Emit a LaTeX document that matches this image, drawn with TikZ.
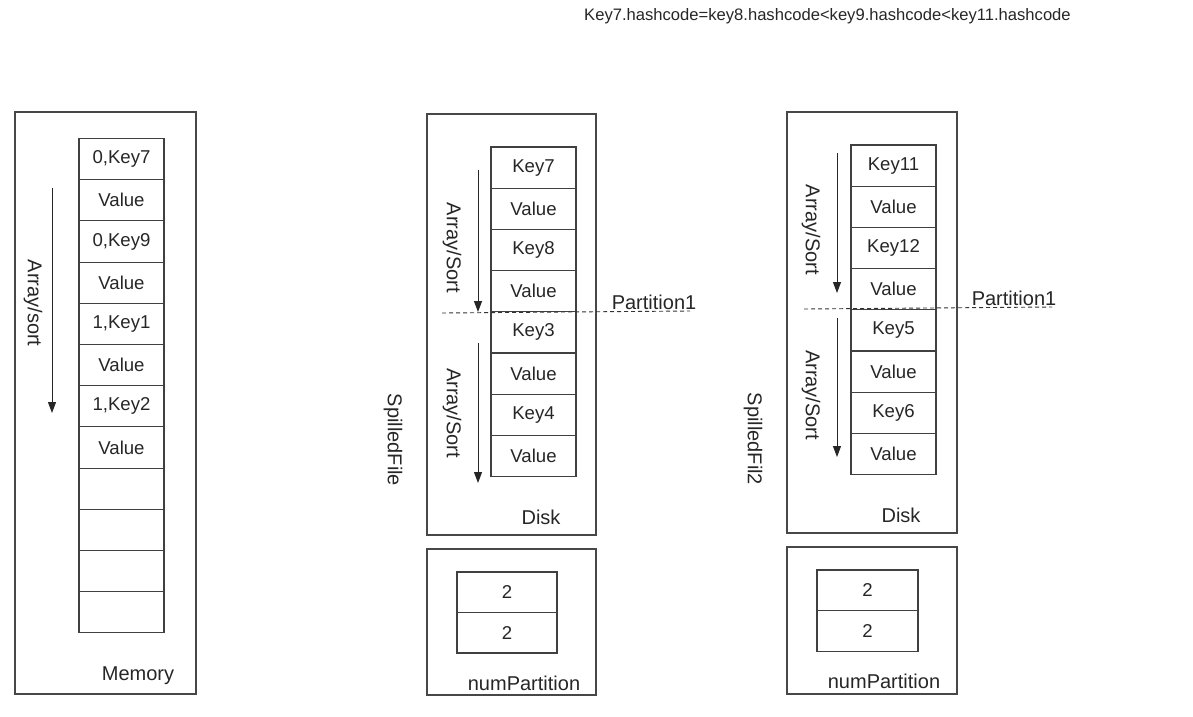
\documentclass[tikz,border=0pt]{standalone}
\usepackage{fontspec}
\setmainfont{Liberation Sans}
\usetikzlibrary{arrows.meta,positioning}

\begin{document}
\begin{tikzpicture}[x=1pt,y=-1pt,
  cell/.style={draw=black!75,line width=1.1pt,minimum width=85pt,minimum height=41.2pt,inner sep=0pt,outer sep=0pt,font=\fontsize{18.6}{20}\selectfont,text=black!85},
  box/.style={draw=black!72,line width=1.2pt,inner sep=0pt,outer sep=0pt},
  lbl/.style={font=\fontsize{20}{22}\selectfont,text=black!85,inner sep=0pt},
  sortarrow/.style={draw=black!85,line width=1pt,-{Triangle[width=8pt,length=11pt]}},
  cut/.style={draw=black!80,line width=0.9pt,dash pattern=on 4pt off 3pt}]
\useasboundingbox (0,0) rectangle (1193,716);

\node[font=\fontsize{16.6}{18}\selectfont,text=black!85] (hash) at (827.5,16) {Key7.hashcode=key8.hashcode<key9.hashcode<key11.hashcode};

% memory
\node[box,minimum width=181pt,minimum height=582pt] (mem) at (105.5,403) {};
\node[cell] (m1) at (121.5,159.1) {0,Key7};
\node[cell,below=0pt of m1] (m2) {Value};
\node[cell,below=0pt of m2] (m3) {0,Key9};
\node[cell,below=0pt of m3] (m4) {Value};
\node[cell,below=0pt of m4] (m5) {1,Key1};
\node[cell,below=0pt of m5] (m6) {Value};
\node[cell,below=0pt of m6] (m7) {1,Key2};
\node[cell,below=0pt of m7] (m8) {Value};
\node[cell,below=0pt of m8] (m9) {};
\node[cell,below=0pt of m9] (m10) {};
\node[cell,below=0pt of m10] (m11) {};
\node[cell,below=0pt of m11] (m12) {};
\node[lbl] (memlbl) at (138,676) {Memory};
\coordinate (ms) at (52,188);
\coordinate (me) at (52,413);
\draw[sortarrow] (ms) -- (me);
\node[lbl,rotate=-90] (msort) at (33,303) {Array/sort};

% first spilled file
\node[box,minimum width=169pt,minimum height=421pt] (disk) at (511.5,324.5) {};
\node[cell] (a1) at (533.5,167.6) {Key7};
\node[cell,below=0pt of a1] (a2) {Value};
\node[cell,below=0pt of a2] (a3) {Key8};
\node[cell,below=0pt of a3] (a4) {Value};
\node[cell,below=0pt of a4] (a5) {Key3};
\node[cell,below=0pt of a5] (a6) {Value};
\node[cell,below=0pt of a6] (a7) {Key4};
\node[cell,below=0pt of a7] (a8) {Value};
\node[lbl] (disklbl) at (541,517) {Disk};
\node[lbl,rotate=-90] (spill) at (393,440) {SpilledFile};
\coordinate (as1) at (478,170);
\coordinate (ae1) at (478,312);
\coordinate (as2) at (478,343);
\coordinate (ae2) at (478,483);
\draw[sortarrow] (as1) -- (ae1);
\draw[sortarrow] (as2) -- (ae2);
\node[lbl,rotate=-90] (asort1) at (452,248) {Array/Sort};
\node[lbl,rotate=-90] (asort2) at (452,413) {Array/Sort};
\coordinate (ac1) at (442,313);
\coordinate (ac2) at (690,311);
\draw[cut] (ac1) -- (ac2);
\node[lbl] (apart) at (654,302) {Partition1};
\node[box,minimum width=169pt,minimum height=146pt] (num) at (511.5,622) {};
\node[cell,minimum width=100pt,minimum height=40.5pt] (n1) at (507,592.2) {2};
\node[cell,minimum width=100pt,minimum height=40.5pt,below=0pt of n1] (n2) {2};
\node[lbl] (numlbl) at (524,683) {numPartition};

% second spilled file
\node[box,minimum width=170pt,minimum height=421pt] (disk2) at (872,322.5) {};
\node[cell] (b1) at (893.5,165.6) {Key11};
\node[cell,below=0pt of b1] (b2) {Value};
\node[cell,below=0pt of b2] (b3) {Key12};
\node[cell,below=0pt of b3] (b4) {Value};
\node[cell,below=0pt of b4] (b5) {Key5};
\node[cell,below=0pt of b5] (b6) {Value};
\node[cell,below=0pt of b6] (b7) {Key6};
\node[cell,below=0pt of b7] (b8) {Value};
\node[lbl] (disklbl2) at (901,515) {Disk};
\node[lbl,rotate=-90] (spill2) at (753,439) {SpilledFil2};
\coordinate (bs1) at (837,153);
\coordinate (be1) at (837,293);
\coordinate (bs2) at (837,318);
\coordinate (be2) at (837,457);
\draw[sortarrow] (bs1) -- (be1);
\draw[sortarrow] (bs2) -- (be2);
\node[lbl,rotate=-90] (bsort1) at (811,230) {Array/Sort};
\node[lbl,rotate=-90] (bsort2) at (811,395) {Array/Sort};
\coordinate (bc1) at (804,309);
\coordinate (bc2) at (1052,307);
\draw[cut] (bc1) -- (bc2);
\node[lbl] (bpart) at (1014,298) {Partition1};
\node[box,minimum width=170pt,minimum height=147pt] (num2) at (872,620.5) {};
\node[cell,minimum width=101pt,minimum height=40.8pt] (k1) at (867.5,590.4) {2};
\node[cell,minimum width=101pt,minimum height=40.8pt,below=0pt of k1] (k2) {2};
\node[lbl] (numlbl2) at (884,681) {numPartition};
\end{tikzpicture}
\end{document}
